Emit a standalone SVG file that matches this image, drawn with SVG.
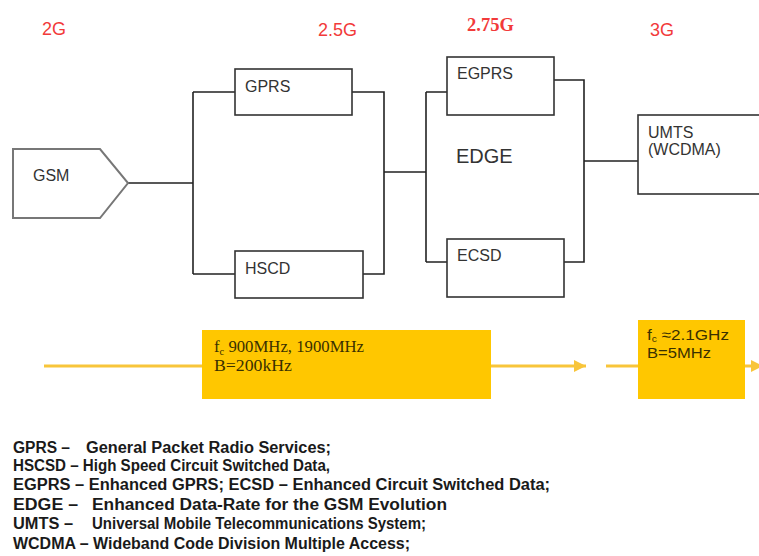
<svg xmlns="http://www.w3.org/2000/svg" width="759" height="556" viewBox="0 0 759 556">
<style>
.gen{font-family:"Liberation Sans",Arial,sans-serif;font-size:18px;fill:#f23a3a}
.gen2{font-family:"Liberation Serif","Times New Roman",serif;font-size:18.5px;font-weight:bold;fill:#f23a3a}
.box{fill:#fff;stroke:#333;stroke-width:1.6}
.lbl{font-family:"Liberation Sans",Arial,sans-serif;font-size:16px;fill:#333}
.wire{fill:none;stroke:#222;stroke-width:1.6}
.ybox{fill:#ffc700}
.yline{fill:none;stroke:#f8c53a;stroke-width:3}
.ser{font-family:"Liberation Serif","Times New Roman",serif;font-size:16px;fill:#3a3000}
.san{font-family:"Liberation Sans",Arial,sans-serif;font-size:15px;fill:#3a3000}
.leg{font-family:"Liberation Sans",Arial,sans-serif;font-size:16px;font-weight:bold;fill:#1a1a1a}
</style>
<defs>
<marker id="ah" viewBox="0 0 10 10" refX="10" refY="5" markerWidth="4" markerHeight="4" orient="auto" markerUnits="strokeWidth">
<path d="M0,0 L10,5 L0,10 z" fill="#f8c53a"/>
</marker>
</defs>
<rect width="759" height="556" fill="#fff"/>

<g id="generations">
<text class="gen" x="42" y="35">2G</text>
<text class="gen" x="318" y="36">2.5G</text>
<text class="gen2" x="467" y="31">2.75G</text>
<text class="gen" x="650" y="36">3G</text>
</g>

<g id="connectors">
<path class="wire" d="M128,183 H193 M193,92 V274 M193,92 H235 M193,274 H235"/>
<path class="wire" d="M352,92 H384 V274 H363 M384,172 H426"/>
<path class="wire" d="M426,92 V262 M426,92 H447 M426,262 H447"/>
<path class="wire" d="M554,80 H584 V262 H564 M584,161 H638"/>
</g>

<g id="gsm">
<path d="M13,149 H100 L128,183 L100,218 H13 Z" fill="#fff" stroke="#777" stroke-width="2"/>
<text class="lbl" x="33" y="181">GSM</text>
</g>
<g id="gprs">
<rect class="box" x="235" y="69" width="117" height="46"/>
<text class="lbl" x="245" y="92">GPRS</text>
</g>
<g id="hscd">
<rect class="box" x="235" y="251" width="128" height="47"/>
<text class="lbl" x="245" y="274">HSCD</text>
</g>
<g id="egprs">
<rect class="box" x="447" y="57" width="107" height="58"/>
<text class="lbl" x="457" y="79">EGPRS</text>
</g>
<g id="edge">
<text class="lbl" x="456" y="163" style="font-size:20px">EDGE</text>
</g>
<g id="ecsd">
<rect class="box" x="447" y="239" width="117" height="58"/>
<text class="lbl" x="457" y="261">ECSD</text>
</g>
<g id="umts">
<rect class="box" x="638" y="115" width="140" height="79"/>
<text class="lbl" x="648" y="138">UMTS</text>
<text class="lbl" x="648" y="155">(WCDMA)</text>
</g>

<g id="bands">
<path class="yline" d="M44,366 H202"/>
<path class="yline" d="M491,366 H586" marker-end="url(#ah)"/>
<path class="yline" d="M606,366 H638"/>
<path class="yline" d="M745,366 H763" marker-end="url(#ah)"/>
<g id="band2g">
<rect class="ybox" x="202" y="330" width="289" height="69"/>
<text class="ser" x="214" y="352" textLength="150" lengthAdjust="spacingAndGlyphs">f<tspan font-size="10" dy="3">c</tspan><tspan dy="-3">  900MHz, 1900MHz</tspan></text>
<text class="ser" x="214" y="371" textLength="78" lengthAdjust="spacingAndGlyphs">B=200kHz</text>
</g>
<g id="band3g">
<rect class="ybox" x="638" y="320" width="107" height="79"/>
<text class="san" x="647" y="340" textLength="82" lengthAdjust="spacingAndGlyphs">f<tspan font-size="9" dy="2">c</tspan><tspan dy="-2"> ≈2.1GHz</tspan></text>
<text class="san" x="647" y="358" textLength="64" lengthAdjust="spacingAndGlyphs">B=5MHz</text>
</g>
</g>

<g id="legend">
<text class="leg" x="13" y="453" textLength="57" lengthAdjust="spacingAndGlyphs">GPRS –</text>
<text class="leg" x="86" y="453" textLength="245" lengthAdjust="spacingAndGlyphs">General Packet Radio Services;</text>
<text class="leg" x="13" y="471" textLength="317" lengthAdjust="spacingAndGlyphs">HSCSD – High Speed Circuit Switched Data,</text>
<text class="leg" x="13" y="490" textLength="537" lengthAdjust="spacingAndGlyphs">EGPRS – Enhanced GPRS; ECSD – Enhanced Circuit Switched Data;</text>
<text class="leg" x="13" y="510" textLength="65" lengthAdjust="spacingAndGlyphs">EDGE  –</text>
<text class="leg" x="92" y="510" textLength="355" lengthAdjust="spacingAndGlyphs">Enhanced Data-Rate for the GSM Evolution</text>
<text class="leg" x="13" y="529" textLength="60" lengthAdjust="spacingAndGlyphs">UMTS –</text>
<text class="leg" x="92" y="529" textLength="334" lengthAdjust="spacingAndGlyphs">Universal Mobile Telecommunications System;</text>
<text class="leg" x="13" y="549" textLength="397" lengthAdjust="spacingAndGlyphs">WCDMA – Wideband Code Division Multiple Access;</text>
</g>
</svg>
